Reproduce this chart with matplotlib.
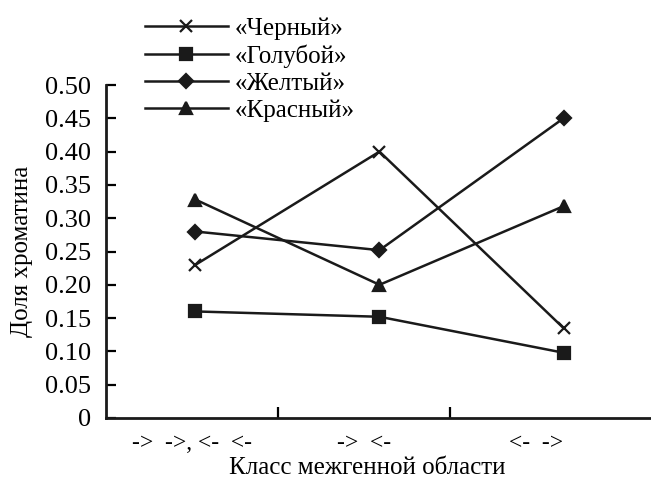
import matplotlib
matplotlib.use("Agg")
import matplotlib.pyplot as plt

# Data
categories = ["->  ->, <-  <-", "->  <-", "<-  ->"]
category_x = [0.52, 1.59, 2.66]          # marker positions along x (category units)
series_names = ["«Черный»", "«Голубой»", "«Желтый»", "«Красный»"]
cherny = [0.23, 0.40, 0.135]
goluboy = [0.16, 0.152, 0.098]
zhelty = [0.28, 0.252, 0.45]
krasny = [0.328, 0.20, 0.318]
y_ticks = [0, 0.05, 0.10, 0.15, 0.20, 0.25, 0.30, 0.35, 0.40, 0.45, 0.50]
y_tick_labels = ["0", "0.05", "0.10", "0.15", "0.20", "0.25", "0.30", "0.35", "0.40", "0.45", "0.50"]

plt.rcParams['font.family'] = ['Liberation Serif', 'DejaVu Serif']

fig = plt.figure(figsize=(6.51, 4.82), dpi=100)
ax = fig.add_axes([106/651, 1-418/482, 1-106/651, (418-85)/482])

series = [cherny, goluboy, zhelty, krasny]
markers = ['x', 's', 'D', '^']
msizes = [9, 8, 7, 9]
handles = []
for vals, name, m, ms in zip(series, series_names, markers, msizes):
    h, = ax.plot(category_x, vals, color='#1a1a1a', lw=1.8, marker=m, ms=ms,
                 mew=1.6, mfc='#1a1a1a', mec='#1a1a1a', label=name, clip_on=False)
    handles.append(h)

ax.set_xlim(0, 545/172)
ax.set_ylim(0, 0.5)
ax.set_yticks(y_ticks)
ax.set_yticklabels(y_tick_labels)
ax.set_xticks([1, 2])
ax.set_xticklabels([])
ax.set_xticks([0.5, 1.5, 2.5], minor=True)
ax.set_xticklabels(categories, minor=True)
ax.tick_params(axis='x', which='major', direction='in', length=8, width=1.6)
ax.tick_params(axis='x', which='minor', length=0, pad=11, labelsize=17)
ax.tick_params(axis='y', direction='in', length=7, width=1.6, labelsize=19, pad=11)

for s in ['top', 'right']:
    ax.spines[s].set_visible(False)
for s in ['left', 'bottom']:
    ax.spines[s].set_linewidth(2.0)
    ax.spines[s].set_color('#1a1a1a')

ax.set_ylabel("Доля хроматина", fontsize=18, va='center')
ax.yaxis.set_label_coords(-(106-22)/545, 0.5)
ax.set_xlabel("Класс межгенной области", fontsize=18, va='center')
ax.xaxis.set_label_coords((367-106)/545, -(468-418)/333)

leg = fig.legend(handles=handles, labels=series_names, loc='upper left',
                 bbox_to_anchor=(135/651, 1-7/482), frameon=False, fontsize=18,
                 handlelength=3.3, handletextpad=0.3, labelspacing=0.18,
                 borderaxespad=0)

fig.savefig("out.png", dpi=100)
